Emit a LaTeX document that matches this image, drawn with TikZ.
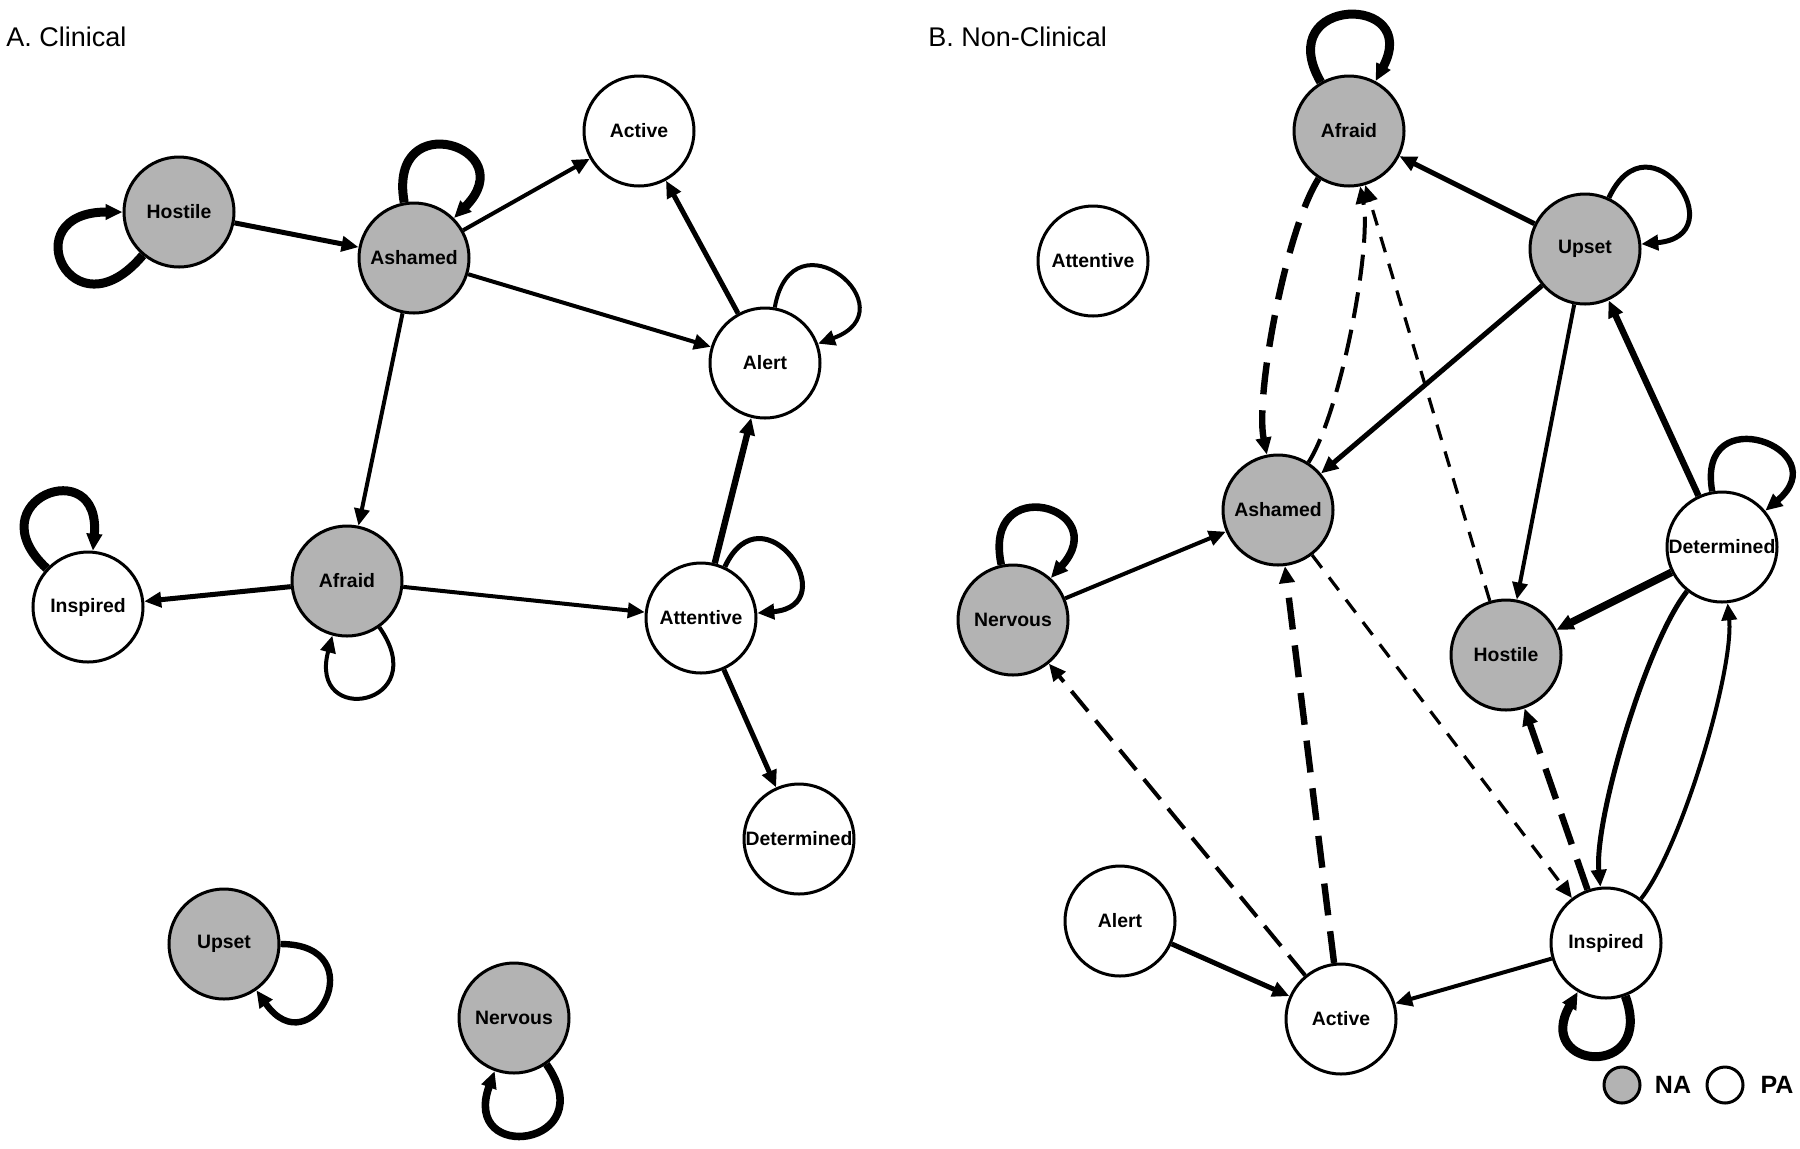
\documentclass[tikz,border=0pt]{standalone}
\usepackage{fontspec}
\setmainfont{Liberation Sans}
\usetikzlibrary{arrows.meta}
\definecolor{nagray}{RGB}{179,179,179}

\begin{document}
\begin{tikzpicture}[x=0.5pt, y=-0.5pt, >={Triangle[length=8.5pt,width=7.5pt]},
    emo/.style={circle, draw, line width=1.5pt, minimum size=55pt, inner sep=0pt,
      font=\fontsize{9.7}{11}\selectfont\bfseries},
    na/.style={emo, fill=nagray},
    pa/.style={emo, fill=white},
    e1/.style={line width=1.6pt},
    e2/.style={line width=2pt},
    e3/.style={line width=2.5pt},
    e4/.style={line width=3.2pt},
    e5/.style={line width=3.8pt},
    e6/.style={line width=4.5pt},
    dshort/.style={dash pattern=on 8pt off 6pt},
    dmid/.style={dash pattern=on 13pt off 6pt},
    dlong/.style={dash pattern=on 16pt off 8pt},
    curvy/.style={bend right=22, looseness=0.55},
    title/.style={anchor=west, inner sep=0pt, font=\fontsize{13.5}{16}\selectfont},
  ]
  % 枠
  \useasboundingbox (0,0) rectangle (1800,1148);

  % A. Clinical
  \node[title] (titleA) at (6,37) {A. Clinical};
  \node[na] (aHostile)    at (179,212)  {Hostile};
  \node[na] (aAshamed)    at (414,258)  {Ashamed};
  \node[pa] (aActive)     at (639,131)  {Active};
  \node[pa] (aAlert)      at (765,363)  {Alert};
  \node[pa] (aInspired)   at (88,607)   {Inspired};
  \node[na] (aAfraid)     at (347,581)  {Afraid};
  \node[pa] (aAttentive)  at (701,618)  {Attentive};
  \node[pa] (aDetermined) at (799,839)  {Determined};
  \node[na] (aUpset)      at (224,944)  {Upset};
  \node[na] (aNervous)    at (514,1018) {Nervous};

  % 自己ループ (A)
  \draw[->, e6] (aHostile) to[out=230, in=180, distance=55pt] (aHostile);
  \draw[->, e6] (aAshamed) to[out=100, in=45, distance=50pt] (aAshamed);
  \draw[->, e2] (aAlert) to[out=80, in=20, distance=50pt] (aAlert);
  \draw[->, e3] (aAttentive) to[out=65, in=5, distance=45pt] (aAttentive);
  \draw[->, e2] (aAfraid) to[out=-55, in=-105, distance=48pt] (aAfraid);
  \draw[->, e6] (aInspired) to[out=137, in=85, distance=50pt] (aInspired);
  \draw[->, e4] (aUpset) to[out=0, in=-55, distance=48pt] (aUpset);
  \draw[->, e5] (aNervous) to[out=-55, in=-110, distance=50pt] (aNervous);

  % 矢印 (A)
  \draw[->, e3] (aHostile) -- (aAshamed);
  \draw[->, e2] (aAshamed) -- (aActive);
  \draw[->, e2] (aAshamed) -- (aAlert);
  \draw[->, e2] (aAshamed) -- (aAfraid);
  \draw[->, e3] (aAlert) -- (aActive);
  \draw[->, e4] (aAttentive) -- (aAlert);
  \draw[->, e3] (aAfraid) -- (aInspired);
  \draw[->, e2] (aAfraid) -- (aAttentive);
  \draw[->, e3] (aAttentive) -- (aDetermined);

  % B. Non-Clinical
  \node[title] (titleB) at (928,37) {B. Non-Clinical};
  \node[na] (bAfraid)     at (1349,131)  {Afraid};
  \node[pa] (bAttentive)  at (1093,261)  {Attentive};
  \node[na] (bUpset)      at (1585,249)  {Upset};
  \node[na] (bAshamed)    at (1278,510)  {Ashamed};
  \node[na] (bNervous)    at (1013,620)  {Nervous};
  \node[pa] (bDetermined) at (1722,547)  {Determined};
  \node[na] (bHostile)    at (1506,655)  {Hostile};
  \node[pa] (bAlert)      at (1120,921)  {Alert};
  \node[pa] (bActive)     at (1341,1019) {Active};
  \node[pa] (bInspired)   at (1606,943)  {Inspired};

  % 自己ループ (B)
  \draw[->, e6] (bAfraid) to[out=120, in=62, distance=50pt] (bAfraid);
  \draw[->, e3] (bUpset) to[out=65, in=5, distance=48pt] (bUpset);
  \draw[->, e4] (bDetermined) to[out=100, in=40, distance=48pt] (bDetermined);
  \draw[->, e5] (bNervous) to[out=102, in=48, distance=48pt] (bNervous);
  \draw[->, e6] (bInspired) to[out=-70, in=-120, distance=45pt] (bInspired);

  % 実線の矢印 (B)
  \draw[->, e3] (bUpset) -- (bAfraid);
  \draw[->, e3] (bUpset) -- (bAshamed);
  \draw[->, e2] (bUpset) -- (bHostile);
  \draw[->, e4] (bDetermined) -- (bUpset);
  \draw[->, e5] (bDetermined) -- (bHostile);
  \draw[->, e3] (bDetermined) to[curvy] (bInspired);
  \draw[->, e2] (bInspired) to[curvy] (bDetermined);
  \draw[->, e2] (bNervous) -- (bAshamed);
  \draw[->, e3] (bAlert) -- (bActive);
  \draw[->, e2] (bInspired) -- (bActive);

  % 破線の矢印 (B)
  \draw[->, e4, dlong] (bAfraid) to[curvy] (bAshamed);
  \draw[->, e2, dmid] (bAshamed) to[curvy] (bAfraid);
  \draw[->, e1, dshort] (bHostile) -- (bAfraid);
  \draw[->, e2, dmid] (bActive) -- (bNervous);
  \draw[->, e4, dlong] (bActive) -- (bAshamed);
  \draw[->, e1, dshort] (bAshamed) -- (bInspired);
  \draw[->, e4, dlong] (bInspired) -- (bHostile);

  % 凡例
  \node[na, minimum size=18pt] (keyNA) at (1622,1085) {};
  \node[font=\fontsize{12.5}{14}\selectfont\bfseries] (txtNA) at (1673,1085) {NA};
  \node[pa, minimum size=18pt] (keyPA) at (1725,1085) {};
  \node[font=\fontsize{12.5}{14}\selectfont\bfseries] (txtPA) at (1777,1085) {PA};
\end{tikzpicture}
\end{document}
